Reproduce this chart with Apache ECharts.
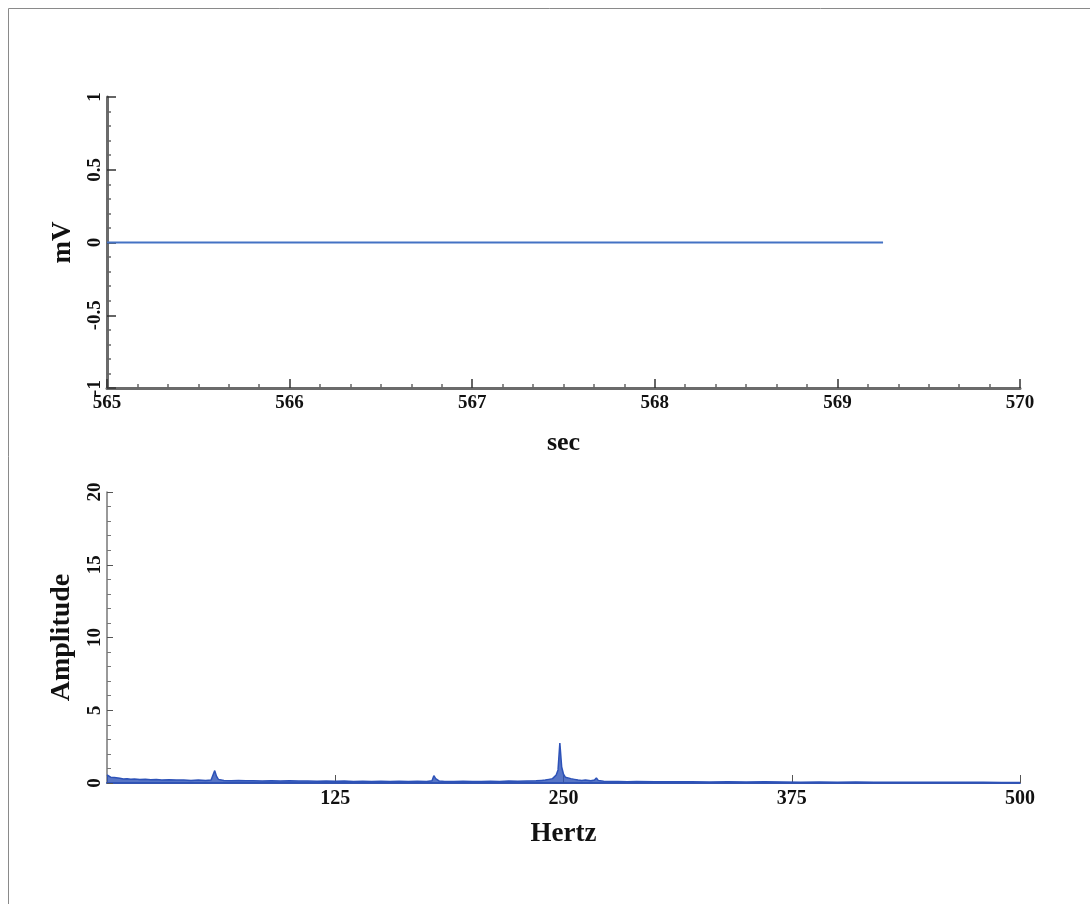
<!DOCTYPE html>
<html><head><meta charset="utf-8">
<script src="https://cdn.jsdelivr.net/npm/echarts@6/dist/echarts.min.js"></script>
<style>html,body{margin:0;padding:0;background:#fff}#c{width:1090px;height:904px}</style>
</head><body><div id="c"></div>
<script>
// Top panel: time trace (sec, mV)
const secTime = [565.00, 565.20, 565.21, 565.22, 565.45, 565.46, 565.47, 565.82, 565.83, 565.84, 566.20, 566.21, 566.22, 566.33, 566.34, 566.35, 566.45, 566.46, 566.47, 566.55, 566.56, 566.57, 567.00, 567.40, 567.41, 567.42, 567.70, 567.71, 567.72, 567.85, 567.86, 567.87, 568.20, 568.21, 568.22, 568.60, 568.61, 568.62, 568.85, 568.86, 568.87, 569.25];
const mVolt   = [0, 0, 0.008, 0, 0, 0.007, 0, 0, 0.008, 0, 0, 0.008, 0, 0, 0.008, 0, 0, 0.008, 0, 0, 0.007, 0, 0, 0, 0.007, 0, 0, 0.008, 0, 0, 0.008, 0, 0, 0.007, 0, 0, 0.007, 0, 0, 0.008, 0, 0];
const secTicks = [565, 566, 567, 568, 569, 570];
const mvTicks = [-1, -0.5, 0, 0.5, 1];

// Bottom panel: spectrum (Hertz, Amplitude)
const hertz = [0,1,2,3,4,5,7,9,11,13,15,18,21,24,27,30,34,38,42,46,50,54,57,58,59,60,61,62,64,68,72,76,80,85,90,95,100,105,110,115,120,125,130,135,140,145,150,155,160,165,170,175,178,179,180,181,182,185,190,195,200,205,210,215,220,225,230,235,238,240,242,244,245,246,247,248,249,250,251,252,254,256,258,260,262,265,267,268,269,270,272,275,280,285,290,300,310,320,330,340,350,360,370,380,390,400,410,420,430,440,450,460,470,480,490,500];
const amplitude = [0.55,0.45,0.4,0.35,0.38,0.3,0.32,0.28,0.3,0.26,0.27,0.24,0.25,0.22,0.24,0.2,0.22,0.2,0.21,0.18,0.2,0.18,0.2,0.3,0.85,0.45,0.25,0.2,0.17,0.16,0.18,0.15,0.16,0.14,0.15,0.13,0.15,0.13,0.14,0.12,0.13,0.12,0.13,0.11,0.12,0.11,0.12,0.11,0.12,0.1,0.12,0.11,0.15,0.5,0.3,0.2,0.13,0.11,0.1,0.12,0.1,0.11,0.12,0.1,0.13,0.12,0.14,0.15,0.18,0.2,0.25,0.3,0.4,0.55,0.9,2.75,1.1,0.6,0.4,0.35,0.3,0.25,0.2,0.18,0.2,0.16,0.2,0.35,0.18,0.14,0.12,0.1,0.11,0.09,0.1,0.09,0.08,0.09,0.07,0.08,0.07,0.08,0.07,0.06,0.07,0.06,0.07,0.06,0.05,0.06,0.05,0.06,0.05,0.05,0.04,0.04];
const hzTicks = [0, 125, 250, 375, 500];
const ampTicks = [0, 5, 10, 15, 20];

const serif = '"Liberation Serif", "DejaVu Serif", serif';

const chart = echarts.init(document.getElementById('c'), null, {renderer:'canvas'});
chart.setOption({
  backgroundColor:'#fff',
  animation:false,
  graphic:[{type:'rect', shape:{x:8.5, y:8.5, width:1200, height:1000}, style:{fill:'none', stroke:'#8a8a8a', lineWidth:1}}],
  grid:[
    {left:107, top:97, width:913, height:291},
    {left:107, top:492, width:913, height:291}
  ],
  xAxis:[
    {gridIndex:0, type:'value', min:secTicks[0], max:secTicks[secTicks.length-1], interval:1,
     name:'sec', nameLocation:'middle', nameGap:42,
     nameTextStyle:{fontFamily:serif, fontSize:26, fontWeight:'bold', color:'#111'},
     axisLine:{onZero:false, lineStyle:{color:'#6b6b6b', width:3}},
     axisTick:{inside:true, length:9, lineStyle:{color:'#333', width:1.5}},
     minorTick:{show:true, splitNumber:6, length:4, lineStyle:{color:'#666', width:1.5}},
     splitLine:{show:false},
     axisLabel:{fontFamily:serif, fontSize:19, fontWeight:'bold', color:'#111', margin:6}},
    {gridIndex:1, type:'value', min:hzTicks[0], max:hzTicks[hzTicks.length-1], interval:125,
     name:'Hertz', nameLocation:'middle', nameGap:38,
     nameTextStyle:{fontFamily:serif, fontSize:27, fontWeight:'bold', color:'#111'},
     axisLine:{onZero:false, lineStyle:{color:'#3555b0', width:2}},
     axisTick:{inside:true, length:8, lineStyle:{color:'#555', width:1}},
     splitLine:{show:false},
     axisLabel:{fontFamily:serif, fontSize:20, fontWeight:'bold', color:'#111', margin:6,
       formatter:v=> v===0 ? '' : String(v)}}
  ],
  yAxis:[
    {gridIndex:0, type:'value', min:mvTicks[0], max:mvTicks[mvTicks.length-1], interval:0.5,
     name:'mV', nameLocation:'middle', nameGap:30, nameRotate:90,
     nameTextStyle:{fontFamily:serif, fontSize:27, fontWeight:'bold', color:'#111'},
     axisLine:{onZero:false, lineStyle:{color:'#6b6b6b', width:3}},
     axisTick:{inside:true, length:9, lineStyle:{color:'#333', width:1.5}},
     minorTick:{show:true, splitNumber:5, length:4, lineStyle:{color:'#666', width:1.5}},
     splitLine:{show:false},
     axisLabel:{fontFamily:serif, fontSize:19, fontWeight:'bold', color:'#111', rotate:90, margin:2}},
    {gridIndex:1, type:'value', min:ampTicks[0], max:ampTicks[ampTicks.length-1], interval:5,
     name:'Amplitude', nameLocation:'middle', nameGap:31, nameRotate:90,
     nameTextStyle:{fontFamily:serif, fontSize:28, fontWeight:'bold', color:'#111'},
     axisLine:{onZero:false, lineStyle:{color:'#777', width:1.5}},
     axisTick:{inside:true, length:6, lineStyle:{color:'#555', width:1}},
     minorTick:{show:true, splitNumber:5, length:4, lineStyle:{color:'#777', width:1}},
     splitLine:{show:false},
     axisLabel:{fontFamily:serif, fontSize:19, fontWeight:'bold', color:'#111', rotate:90, margin:2}}
  ],
  series:[
    {type:'line', xAxisIndex:0, yAxisIndex:0, showSymbol:false,
     data: secTime.map((t,i)=>[t, mVolt[i]]),
     lineStyle:{color:'#4472c4', width:2}},
    {type:'line', xAxisIndex:1, yAxisIndex:1, showSymbol:false,
     data: hertz.map((h,i)=>[h, amplitude[i]]),
     lineStyle:{color:'#2d52b8', width:1.5},
     areaStyle:{color:'#2d52b8', opacity:0.8}}
  ]
});
</script></body></html>
